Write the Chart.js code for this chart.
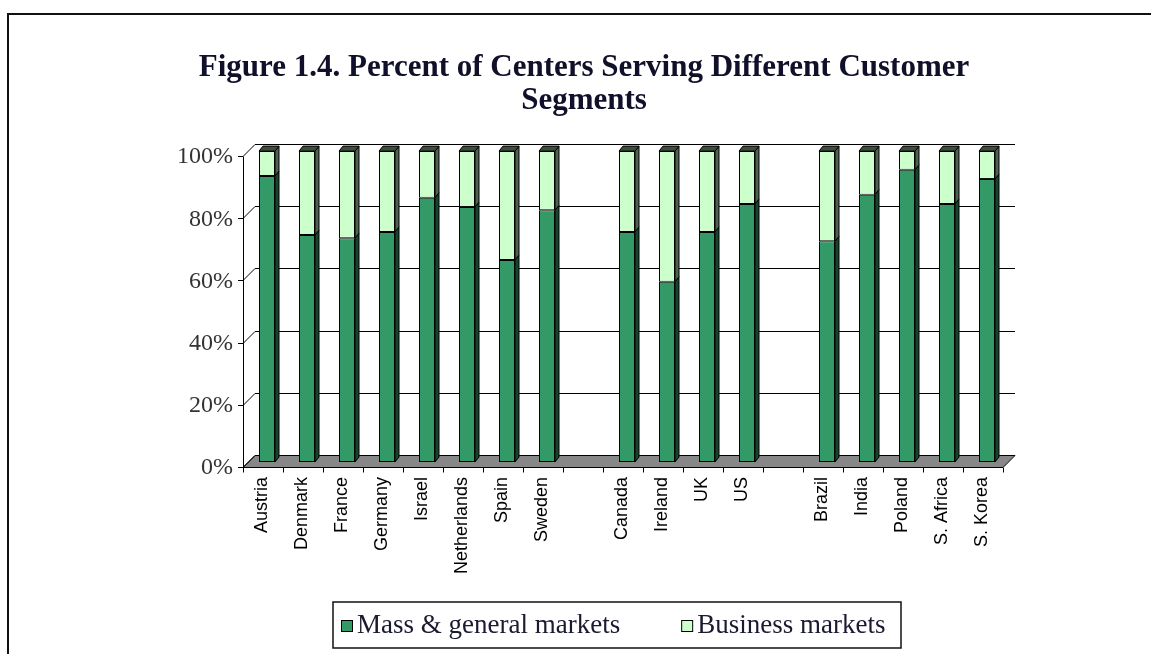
<!DOCTYPE html>
<html>
<head>
<meta charset="utf-8">
<title>Figure 1.4</title>
<script src="https://cdn.jsdelivr.net/npm/chart.js@4.4.0/dist/chart.umd.min.js"></script>
<style>
	body { margin: 0; background: #fff; overflow: hidden; }
	#frame { position: absolute; left: 7px; top: 13px; width: 1200px; height: 700px; border: 2px solid #111; }
	#mycanvas { position: absolute; left: 0; top: 0; }
</style>
</head>
<body>
<div id="frame"></div>
<canvas id="mycanvas" width="1168" height="654"></canvas>
<script>
// blank labels are the gaps between the country groups
var countries = ["Austria", "Denmark", "France", "Germany", "Israel", "Netherlands", "Spain", "Sweden", "",
	"Canada", "Ireland", "UK", "US", "",
	"Brazil", "India", "Poland", "S. Africa", "S. Korea"];
var massMarkets = [92, 73, 72, 74, 85, 82, 65, 81, null, 74, 58, 74, 83, null, 71, 86, 94, 83, 91];
var businessMarkets = [8, 27, 28, 26, 15, 18, 35, 19, null, 26, 42, 26, 17, null, 29, 14, 6, 17, 9];
var seriesNames = ["Mass & general markets", "Business markets"];
var titleLines = ["Figure 1.4. Percent of Centers Serving Different Customer", "Segments"];

var serif = '"Liberation Serif", "Times New Roman", serif';

// fake 3d: back wall, side wall, floor and bar sides
var box3d = {
	id: 'box3d',
	beforeDatasetsDraw: function(chart) {
		var ctx = chart.ctx;
		var xs = chart.scales.x, ys = chart.scales.y;
		var L = chart.chartArea.left, R = chart.chartArea.right;
		var B = Math.round(ys.getPixelForValue(0)) + 0.5;
		ctx.save();
		ctx.lineWidth = 1;
		ctx.strokeStyle = '#000';

		// floor
		ctx.beginPath();
		ctx.moveTo(L - 4, B + 5);
		ctx.lineTo(R - 4, B + 5);
		ctx.lineTo(R + 8, B - 7);
		ctx.lineTo(L + 8, B - 7);
		ctx.closePath();
		ctx.fillStyle = '#878787';
		ctx.fill();
		ctx.stroke();

		// gridlines on the back wall, slants on the left wall
		ys.ticks.forEach(function(t) {
			var y = Math.round(ys.getPixelForValue(t.value)) + 0.5;
			ctx.beginPath();
			ctx.moveTo(L + 8, y - 7);
			ctx.lineTo(R + 8, y - 7);
			ctx.moveTo(L - 4, y + 5);
			ctx.lineTo(L + 8, y - 7);
			ctx.moveTo(L - 9, y + 5);
			ctx.lineTo(L - 4, y + 5);
			ctx.stroke();
		});

		// front value axis
		var top = Math.round(ys.getPixelForValue(100)) + 0.5;
		ctx.beginPath();
		ctx.moveTo(Math.round(L - 4) + 0.5, top + 5);
		ctx.lineTo(Math.round(L - 4) + 0.5, B + 5);
		ctx.stroke();

		// category tick marks
		var step = (R - L) / countries.length;
		for (var i = 0; i <= countries.length; i++) {
			var x = Math.round(xs.getPixelForValue(0) - step / 2 + i * step - 4) + 0.5;
			ctx.beginPath();
			ctx.moveTo(x, B + 5);
			ctx.lineTo(x, B + 10);
			ctx.stroke();
		}
		ctx.restore();
	},
	afterDatasetsDraw: function(chart) {
		var ctx = chart.ctx;
		var last = chart.data.datasets.length - 1;
		ctx.save();
		ctx.lineWidth = 1;
		ctx.strokeStyle = '#000';
		chart.data.datasets.forEach(function(ds, di) {
			var meta = chart.getDatasetMeta(di);
			meta.data.forEach(function(bar, i) {
				if (ds.data[i] == null) return;
				var p = bar.getProps(['x', 'y', 'base', 'width'], true);
				var l = p.x - p.width / 2, r = p.x + p.width / 2;
				var t = Math.min(p.y, p.base), b = Math.max(p.y, p.base);
				ctx.beginPath();
				ctx.moveTo(r, t);
				ctx.lineTo(r + 4, t - 5);
				ctx.lineTo(r + 4, b - 5);
				ctx.lineTo(r, b);
				ctx.closePath();
				ctx.fillStyle = ds.sideColor;
				ctx.fill();
				ctx.stroke();
				if (di === last) {
					ctx.beginPath();
					ctx.moveTo(l, t);
					ctx.lineTo(l + 4, t - 5);
					ctx.lineTo(r + 4, t - 5);
					ctx.lineTo(r, t);
					ctx.closePath();
					ctx.fillStyle = ds.topColor;
					ctx.fill();
					ctx.stroke();
				}
			});
		});
		ctx.restore();
	}
};

// framed legend like the excel one
var legendBox = {
	id: 'legendBox',
	afterDraw: function(chart) {
		var ctx = chart.ctx;
		ctx.save();
		ctx.strokeStyle = '#111';
		ctx.lineWidth = 1.5;
		ctx.strokeRect(333, 602, 568, 46);
		ctx.font = '27px ' + serif;
		ctx.textBaseline = 'middle';
		ctx.lineWidth = 1;
		var x = 341, y = 626;
		chart.data.datasets.forEach(function(ds) {
			ctx.fillStyle = ds.backgroundColor;
			ctx.fillRect(x, y - 6, 11, 11);
			ctx.strokeStyle = '#000';
			ctx.strokeRect(x + 0.5, y - 5.5, 11, 11);
			ctx.fillStyle = '#1a1a30';
			ctx.fillText(ds.label, x + 16, y);
			x += 16 + ctx.measureText(ds.label).width + 61;
		});
		ctx.restore();
	}
};

var ctx = document.getElementById('mycanvas');

var barChart = new Chart(ctx, {
	type: 'bar',
	data: {
		labels: countries,
		datasets: [
			{
				label: seriesNames[0],
				data: massMarkets,
				backgroundColor: '#339966',
				sideColor: '#16452c',
				topColor: '#1f5a3a',
				borderColor: '#000',
				borderWidth: 1,
				borderSkipped: false,
				barPercentage: 0.4,
				categoryPercentage: 1
			},
			{
				label: seriesNames[1],
				data: businessMarkets,
				backgroundColor: '#ccffcc',
				sideColor: '#4f604f',
				topColor: '#3f4d3f',
				borderColor: '#000',
				borderWidth: 1,
				borderSkipped: false,
				barPercentage: 0.4,
				categoryPercentage: 1
			}
		]
	},
	options: {
		responsive: false,
		animation: false,
		devicePixelRatio: 1,
		layout: { padding: { left: 161, right: 161, top: 0, bottom: 77 } },
		plugins: {
			legend: { display: false },
			tooltip: { enabled: false },
			title: {
				display: true,
				text: titleLines,
				color: '#10102a',
				font: { family: serif, size: 31, weight: 'bold', lineHeight: 1.05 },
				padding: { top: 52, bottom: 34 }
			}
		},
		scales: {
			x: {
				stacked: true,
				grid: { display: false, drawTicks: false },
				border: { display: false },
				ticks: {
					autoSkip: false,
					maxRotation: 90,
					minRotation: 90,
					padding: 15,
					labelOffset: -5,
					color: '#000',
					font: { family: '"Liberation Sans", Arial, sans-serif', size: 18 }
				},
				afterFit: function(scale) { scale.height = 115; }
			},
			y: {
				stacked: true,
				min: 0,
				max: 100,
				grid: { display: false, drawTicks: false },
				border: { display: false },
				ticks: {
					stepSize: 20,
					padding: 14,
					labelOffset: 6,
					color: '#333',
					font: { family: serif, size: 24 },
					callback: function(v) { return v + '%'; }
				},
				afterFit: function(scale) { scale.width = 86; }
			}
		}
	},
	plugins: [box3d, legendBox]
});
</script>
</body>
</html>
